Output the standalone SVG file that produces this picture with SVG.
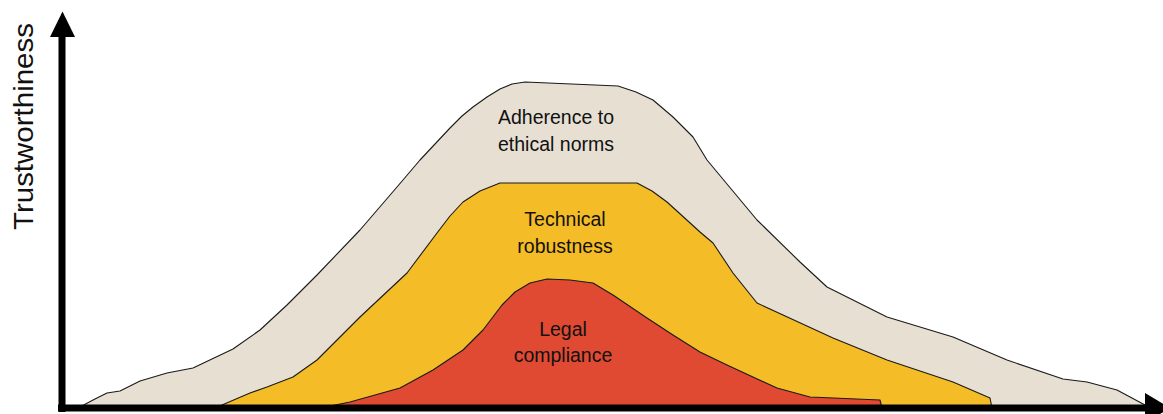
<svg xmlns="http://www.w3.org/2000/svg" width="1163" height="414" viewBox="0 0 1163 414">
<style>
.band{stroke:#1a1a1a;stroke-width:1.1;stroke-linejoin:round}
.lbl{font-family:"Liberation Sans",Arial,sans-serif;font-size:19.5px;fill:#111;text-anchor:middle}
.axis{stroke:#000;stroke-width:7;fill:none}
</style>
<rect width="1163" height="414" fill="#fff"/>
<g id="ethics">
<path class="band" fill="#E6DFD2" d="M78,408 L95,399 L107,393 L120,391 L140,381 L167,373 L193,368 L233,349 L260,330 L287,305 L317,275 L360,230 L397,187 L420,160 L450,128 L462,116 L473,107 L487,97 L500,89 L512,84 L525,82 L618,86 L636,92 L653,100 L673,117 L693,137 L707,160 L732,190 L757,220 L800,262 L827,287 L853,300 L887,317 L953,337 L1007,360 L1063,379 L1087,382 L1117,390 L1145,405 L1145,408 Z"/>
<text class="lbl" x="556" y="124">Adherence to</text>
<text class="lbl" x="556" y="151">ethical norms</text>
</g>
<g id="technical">
<path class="band" fill="#F4BC26" d="M215,408 L250,393 L267,387 L293,377 L317,360 L337,340 L360,317 L407,273 L437,233 L450,216 L463,202 L480,191 L500,183 L637,183 L652,191 L667,202 L700,232 L713,243 L733,273 L757,303 L783,315 L833,338 L887,360 L953,382 L990,398 L992,408 Z"/>
<text class="lbl" x="565" y="226">Technical</text>
<text class="lbl" x="565" y="253">robustness</text>
</g>
<g id="legal">
<path class="band" fill="#E04A33" d="M320,408 L350,402 L400,388 L433,370 L463,350 L483,330 L502,305 L515,292 L530,283 L547,279 L570,280 L593,283 L613,295 L647,318 L673,335 L700,352 L727,365 L777,388 L810,397 L880,400 L882,408 Z"/>
<text class="lbl" x="563" y="336">Legal</text>
<text class="lbl" x="563" y="362">compliance</text>
</g>
<g id="axes">
<line class="axis" x1="62" y1="412" x2="62" y2="34"/>
<polygon points="50,37 62.5,11.5 75,37" fill="#000"/>
<line class="axis" x1="58" y1="408" x2="1147" y2="408"/>
<polygon points="1145,393 1170,408 1145,423" fill="#000"/>
<text font-family="'Liberation Sans',Arial,sans-serif" font-size="28" fill="#111" text-anchor="middle" textLength="207" lengthAdjust="spacingAndGlyphs" transform="translate(33,126.5) rotate(-90)">Trustworthiness</text>
</g>
</svg>
